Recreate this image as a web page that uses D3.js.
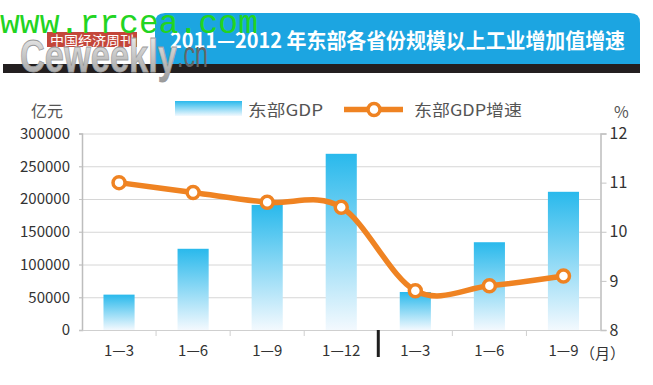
<!DOCTYPE html>
<html>
<head>
<meta charset="utf-8">
<script src="https://cdn.jsdelivr.net/npm/d3@7"></script>
<style>
  body { margin: 0; background: #fff; }
  svg { font-family: "Noto Sans CJK SC", "Noto Sans", sans-serif; }
</style>
</head>
<body>
<svg id="chart" width="653" height="385"></svg>
<script>
// data
var periods = ["1—3", "1—6", "1—9", "1—12", "1—3", "1—6", "1—9"];
var gdp = [54000, 124000, 191000, 269000, 58000, 134000, 211000];
var growth = [11.0, 10.8, 10.6, 10.5, 8.8, 8.9, 9.1];
var leftTicks = [0, 50000, 100000, 150000, 200000, 250000, 300000];
var rightTicks = [8, 9, 10, 11, 12];

var svg = d3.select("#chart");
var orange = "#ef8322";

var defs = svg.append("defs");
var grad = defs.append("linearGradient")
    .attr("id", "barGrad")
    .attr("x1", 0).attr("y1", 0).attr("x2", 0).attr("y2", 1);
grad.append("stop").attr("offset", "0%").attr("stop-color", "#29b9ec");
grad.append("stop").attr("offset", "100%").attr("stop-color", "#f3f9fe");

var silver = defs.append("linearGradient")
    .attr("id", "silver")
    .attr("x1", 0).attr("y1", 0).attr("x2", 0).attr("y2", 1);
silver.append("stop").attr("offset", "0%").attr("stop-color", "#f2f2f2");
silver.append("stop").attr("offset", "100%").attr("stop-color", "#9a9a9a");

// ---- header ----
svg.append("path")
    .attr("d", "M155,64 L155,23 Q155,13 165,13 L630,13 Q640,13 640,23 L640,64 Z")
    .attr("fill", "#1ca5e1");
svg.append("rect")
    .attr("x", 3).attr("y", 64).attr("width", 637).attr("height", 9)
    .attr("fill", "#231f20");
svg.append("text")
    .attr("x", 170).attr("y", 48)
    .attr("fill", "#fff")
    .style("font-family", "'Noto Sans CJK SC', sans-serif")
    .attr("font-size", 21)
    .attr("font-weight", "bold")
    .attr("textLength", 455)
    .attr("lengthAdjust", "spacingAndGlyphs")
    .text("2011—2012 年东部各省份规模以上工业增加值增速");

svg.append("rect")
    .attr("x", 47).attr("y", 32).attr("width", 90).attr("height", 15)
    .attr("fill", "#c4463a");
svg.append("text")
    .attr("x", 50).attr("y", 45)
    .attr("fill", "#fff")
    .attr("font-size", 13)
    .attr("textLength", 84)
    .attr("lengthAdjust", "spacingAndGlyphs")
    .text("中国经济周刊");
svg.append("text")
    .attr("x", 20).attr("y", 72)
    .attr("fill", "url(#silver)")
    .attr("stroke", "#9a9a9a")
    .attr("stroke-width", 0.8)
    .style("font-family", "'Liberation Sans', sans-serif")
    .attr("font-size", 46)
    .attr("font-weight", "bold")
    .attr("textLength", 157)
    .attr("lengthAdjust", "spacingAndGlyphs")
    .text("Ceweekly");
svg.append("text")
    .attr("x", 177).attr("y", 67)
    .attr("fill", "#666")
    .style("font-family", "'Liberation Sans', sans-serif")
    .attr("font-size", 36)
    .attr("textLength", 31)
    .attr("lengthAdjust", "spacingAndGlyphs")
    .text(".cn");
svg.append("text")
    .attr("x", 0).attr("y", 33)
    .attr("fill", "#22d422")
    .style("font-family", "'Liberation Mono', monospace")
    .attr("font-size", 34)
    .attr("textLength", 258)
    .attr("lengthAdjust", "spacingAndGlyphs")
    .text("www.rrcea.com");

// ---- scales ----
var x = d3.scaleBand()
    .domain(d3.range(periods.length))
    .range([82, 600.5])
    .paddingInner(0.58)
    .paddingOuter(0.29);
var yL = d3.scaleLinear().domain([0, 300000]).range([330, 133.5]);
var yR = d3.scaleLinear().domain([8, 12]).range([330, 133.5]);

// grid
svg.append("g").selectAll("line")
    .data(leftTicks.slice(1))
    .enter().append("line")
    .attr("x1", 79).attr("x2", 600.5)
    .attr("y1", function(d) { return yL(d) + 0.5; })
    .attr("y2", function(d) { return yL(d) + 0.5; })
    .attr("stroke", "#d6d6d6");

// bars
svg.append("g").selectAll("rect")
    .data(gdp)
    .enter().append("rect")
    .attr("x", function(d, i) { return x(i); })
    .attr("y", function(d) { return yL(d); })
    .attr("width", x.bandwidth())
    .attr("height", function(d) { return yL(0) - yL(d); })
    .attr("fill", "url(#barGrad)");

// axes
var axisL = svg.append("g")
    .attr("transform", "translate(82,0)")
    .call(d3.axisLeft(yL).tickValues(leftTicks).tickSize(3).tickPadding(9).tickFormat(d3.format("d")));
var axisR = svg.append("g")
    .attr("transform", "translate(600.5,0)")
    .call(d3.axisRight(yR).tickValues(rightTicks).tickSize(6).tickPadding(3).tickFormat(d3.format("d")));
[axisL, axisR].forEach(function(a) {
  a.attr("font-family", null);
  a.select(".domain").attr("stroke", "#bdbdbd").attr("stroke-width", 1.5);
  a.selectAll(".tick line").attr("stroke", "#c4c4c4");
  a.selectAll("text").attr("fill", "#333").attr("font-size", 15);
});
axisR.selectAll("text").attr("font-size", 16);

var axisB = svg.append("g")
    .attr("transform", "translate(0,330)")
    .call(d3.axisBottom(x).tickSize(0).tickPadding(15).tickFormat(function(i) { return periods[i]; }));
axisB.attr("font-family", null);
axisB.select(".domain").attr("stroke", "#cfcfcf");
axisB.selectAll("text").attr("fill", "#333").attr("font-size", 15);

svg.append("g").selectAll("line")
    .data(d3.range(1, periods.length))
    .enter().append("line")
    .attr("x1", function(i) { return x.range()[0] + i * x.step(); })
    .attr("x2", function(i) { return x.range()[0] + i * x.step(); })
    .attr("y1", 330).attr("y2", 336)
    .attr("stroke", "#cfcfcf");

// year separator
svg.append("line")
    .attr("x1", x.range()[0] + 4 * x.step()).attr("x2", x.range()[0] + 4 * x.step())
    .attr("y1", 330).attr("y2", 357)
    .attr("stroke", "#1e1e1e").attr("stroke-width", 3);

svg.append("text")
    .attr("x", 580).attr("y", 359)
    .attr("fill", "#333").attr("font-size", 15)
    .text("（月）");

svg.append("text")
    .attr("x", 47).attr("y", 117)
    .attr("text-anchor", "middle")
    .attr("fill", "#555").attr("font-size", 16)
    .text("亿元");
svg.append("text")
    .attr("x", 614).attr("y", 118)
    .attr("fill", "#555").attr("font-size", 16)
    .text("%");

// line
var line = d3.line()
    .x(function(d, i) { return x(i) + x.bandwidth() / 2; })
    .y(function(d) { return yR(d); })
    .curve(d3.curveCardinal.tension(0));
svg.append("path")
    .datum(growth)
    .attr("d", line)
    .attr("fill", "none")
    .attr("stroke", orange)
    .attr("stroke-width", 5.5);
svg.append("g").selectAll("circle")
    .data(growth)
    .enter().append("circle")
    .attr("cx", function(d, i) { return x(i) + x.bandwidth() / 2; })
    .attr("cy", function(d) { return yR(d); })
    .attr("r", 6)
    .attr("fill", "#fff")
    .attr("stroke", orange)
    .attr("stroke-width", 3.5);

// legend
svg.append("rect")
    .attr("x", 175).attr("y", 101).attr("width", 67).attr("height", 15)
    .attr("fill", "url(#barGrad)");
svg.append("text")
    .attr("x", 248).attr("y", 116)
    .attr("fill", "#555").attr("font-size", 16)
    .attr("textLength", 75)
    .attr("lengthAdjust", "spacingAndGlyphs")
    .text("东部GDP");
svg.append("line")
    .attr("x1", 344).attr("x2", 403).attr("y1", 109.5).attr("y2", 109.5)
    .attr("stroke", orange).attr("stroke-width", 5.5);
svg.append("circle")
    .attr("cx", 374).attr("cy", 109.5).attr("r", 6)
    .attr("fill", "#fff").attr("stroke", orange).attr("stroke-width", 3.5);
svg.append("text")
    .attr("x", 414).attr("y", 116)
    .attr("fill", "#555").attr("font-size", 16)
    .attr("textLength", 108)
    .attr("lengthAdjust", "spacingAndGlyphs")
    .text("东部GDP增速");
</script>
</body>
</html>
